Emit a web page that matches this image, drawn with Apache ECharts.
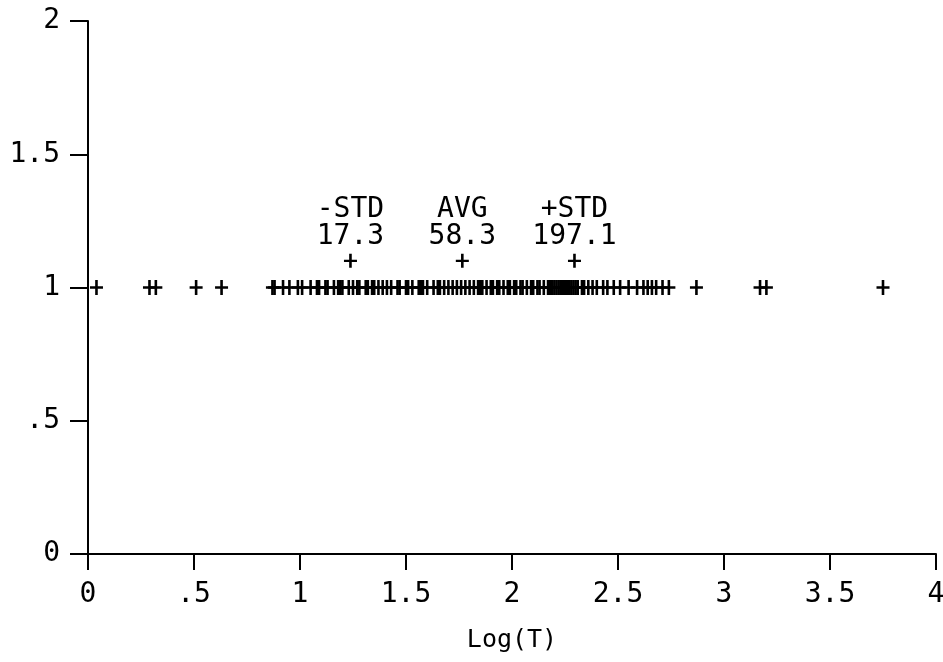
<!DOCTYPE html>
<html>
<head>
<meta charset="utf-8">
<script src="https://cdn.jsdelivr.net/npm/echarts@6/dist/echarts.min.js"></script>
<style>
  html, body { margin: 0; padding: 0; background: #fff; }
  #chart { width: 943px; height: 662px; }
</style>
</head>
<body>
<div id="chart"></div>
<script>
// Log(T) of each observation, all plotted at y = 1
var logT = [
  0.04, 0.29, 0.32, 0.51, 0.63,
  0.87, 0.88, 0.92, 0.95, 0.99, 1.01, 1.05, 1.08, 1.09, 1.12, 1.13, 1.16, 1.18,
  1.19, 1.20, 1.23, 1.25, 1.27, 1.28, 1.31, 1.32, 1.34, 1.35, 1.37, 1.39, 1.41,
  1.43, 1.46, 1.47, 1.50, 1.51, 1.53, 1.56,
  1.57, 1.58, 1.60, 1.63, 1.65, 1.66, 1.68, 1.70, 1.72, 1.74, 1.76, 1.78, 1.80,
  1.82, 1.84, 1.85, 1.86, 1.88, 1.90, 1.91, 1.93, 1.94, 1.96, 1.98, 1.99, 2.01,
  2.02, 2.04, 2.05, 2.07, 2.09, 2.10, 2.12, 2.13, 2.15, 2.17, 2.18, 2.19, 2.20,
  2.21, 2.22, 2.23, 2.24, 2.25, 2.26, 2.27, 2.28, 2.29,
  2.30, 2.31, 2.33, 2.34, 2.36, 2.38, 2.40, 2.43, 2.45, 2.48, 2.51, 2.55, 2.59,
  2.62, 2.64, 2.66, 2.68, 2.71, 2.74, 2.87,
  3.17, 3.20, 3.75
];
var dataY = 1;

// summary markers
var statNames = ['-STD', 'AVG', '+STD'];
var statValues = [17.3, 58.3, 197.1];
var statY = 1.1;

var xTicks = [0, 0.5, 1, 1.5, 2, 2.5, 3, 3.5, 4];
var yTicks = [0, 0.5, 1, 1.5, 2];

function tickText(v) {
  var s = String(v);
  if (s.indexOf('0.') === 0) s = s.substring(1);
  return s;
}

var plus = 'path://M-0.2,-1 L0.2,-1 L0.2,1 L-0.2,1 Z M-1,-0.16 L1,-0.16 L1,0.16 L-1,0.16 Z';
var font = 'DejaVu Sans Mono';

var chart = echarts.init(document.getElementById('chart'));
var option = {
  backgroundColor: '#fff',
  animation: false,
  grid: { left: 88, right: 7, top: 21, bottom: 108, containLabel: false, outerBoundsMode: 'none' },
  xAxis: {
    type: 'value',
    min: xTicks[0],
    max: xTicks[xTicks.length - 1],
    interval: 0.5,
    name: 'Log(T)',
    nameLocation: 'middle',
    nameGap: 74,
    nameTextStyle: { color: '#000', fontFamily: font, fontSize: 25 },
    axisLine: { show: true, onZero: false, lineStyle: { color: '#000', width: 2 } },
    axisTick: { show: true, inside: false, length: 16, lineStyle: { color: '#000', width: 2 } },
    axisLabel: { color: '#000', fontFamily: font, fontSize: 28, margin: 27, formatter: tickText },
    splitLine: { show: false }
  },
  yAxis: {
    type: 'value',
    min: yTicks[0],
    max: yTicks[yTicks.length - 1],
    interval: 0.5,
    axisLine: { show: true, onZero: false, lineStyle: { color: '#000', width: 2 } },
    axisTick: { show: true, inside: false, length: 18, lineStyle: { color: '#000', width: 2 } },
    axisLabel: { color: '#000', fontFamily: font, fontSize: 28, margin: 28, padding: [14, 0, 0, 0], formatter: tickText },
    splitLine: { show: false }
  },
  series: [
    {
      type: 'scatter',
      symbol: plus,
      symbolSize: [13, 15],
      itemStyle: { color: '#000', opacity: 1 },
      data: logT.map(function (x) { return [x, dataY]; })
    },
    {
      type: 'scatter',
      symbol: plus,
      symbolSize: [13, 14],
      itemStyle: { color: '#000', opacity: 1 },
      label: {
        show: true,
        position: 'top',
        distance: 4,
        color: '#000',
        fontFamily: font,
        fontSize: 28,
        lineHeight: 27,
        align: 'center',
        formatter: function (p) {
          return statNames[p.dataIndex] + '\n' + statValues[p.dataIndex].toFixed(1);
        }
      },
      data: statValues.map(function (v) { return [Math.log10(v), statY]; })
    }
  ]
};
chart.setOption(option);
</script>
</body>
</html>
